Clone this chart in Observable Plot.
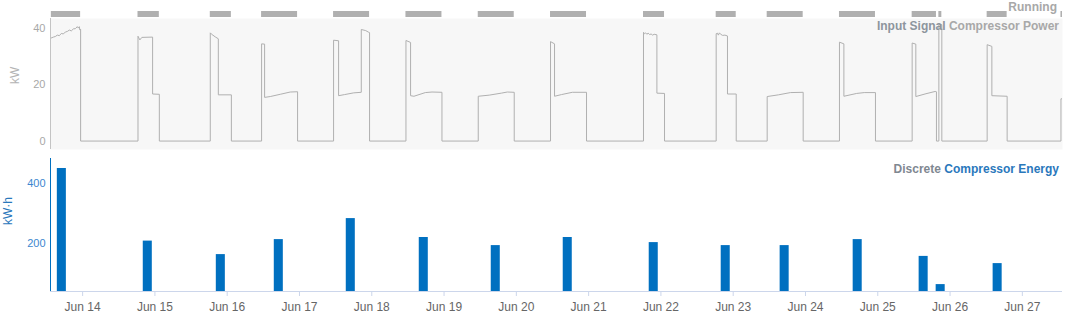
<!DOCTYPE html>
<html><head><meta charset="utf-8">
<script src="https://cdn.jsdelivr.net/npm/d3@7"></script>
<script src="https://cdn.jsdelivr.net/npm/@observablehq/plot@0.6"></script>
<style>
body{margin:0;background:#fff;font-family:"Liberation Sans",Arial,sans-serif;}
#wrap{position:relative;width:1068px;height:315px;overflow:hidden}
#wrap > div.plot{position:absolute;left:0}
.t{position:absolute;font-weight:bold;font-size:12px;line-height:12px;white-space:nowrap}
</style></head><body>
<div id="wrap">
 <div class="plot" id="power" style="top:0"></div>
 <div class="plot" id="strip" style="top:0"></div>
 <div class="plot" id="energy" style="top:152px"></div>
 <div class="t" style="right:11px;top:1px;color:#a8a8a8">Running</div>
 <div class="t" style="right:9px;top:20px"><span style="color:#8d959d">Input Signal</span> <span style="color:#a8a8a8">Compressor Power</span></div>
 <div class="t" style="right:9px;top:163px"><span style="color:#7f8891">Discrete</span> <span style="color:#2a78bc">Compressor Energy</span></div>
</div>
<script>
// ---- data (June; "DD HH:MM") ----
const xRange = ["13 13:20", "27 13:20"];
const kwTicks = [0, 20, 40];
const kwhTicks = [200, 400];

const runStart = ["13 13:37","14 18:23","15 18:23","16 11:25","17 11:19","18 11:21","19 11:21","20 11:21","21 18:13","22 18:21","23 11:17","24 11:17","25 11:25","25 20:17","26 12:19","27 12:49"];
const runEnd   = ["13 23:20","15 01:28","16 01:23","16 23:22","17 23:16","18 23:18","19 23:18","20 23:18","22 01:12","23 01:00","23 23:14","24 23:14","25 19:29","25 21:16","26 18:57","27 13:20"];

const powerTime = [
 "13 13:37","13 14:16","13 14:56","13 15:36","13 16:16","13 16:56","13 17:36","13 18:15","13 18:55","13 19:35","13 20:15","13 20:55","13 21:35","13 22:14","13 22:34","13 22:54","13 23:05","13 23:20","13 23:20",
 "14 18:23","14 18:23","14 19:00","14 19:40","14 23:14","14 23:14","15 01:28","15 01:28",
 "15 18:23","15 18:23","15 18:43","15 20:00","15 21:03","15 21:03","16 01:23","16 01:23",
 "16 11:25","16 11:25","16 12:25","16 12:25","16 14:18","16 17:37","16 20:56","16 23:22","16 23:22",
 "17 11:19","17 11:19","17 12:59","17 12:59","17 15:00","17 18:00","17 20:31","17 20:31","17 22:00","17 23:00","17 23:16","17 23:16",
 "18 11:21","18 11:21","18 12:53","18 12:53","18 14:00","18 17:46","18 20:00","18 23:18","18 23:18",
 "19 11:21","19 11:21","19 15:00","19 19:00","19 21:00","19 23:18","19 23:18",
 "20 11:21","20 11:21","20 12:41","20 12:41","20 15:00","20 18:35","20 23:18","20 23:18",
 "21 18:13","21 18:13","21 18:35","21 18:55","21 19:20","21 19:45","21 20:15","21 20:45","21 21:15","21 21:45","21 22:40","21 22:40","22 01:12","22 01:12",
 "22 18:21","22 18:21","22 18:45","22 19:05","22 19:25","22 19:50","22 20:30","22 21:15","22 22:06","22 22:06","23 01:00","23 01:00",
 "23 11:17","23 11:17","23 15:00","23 19:00","23 23:14","23 23:14",
 "24 11:17","24 11:17","24 12:45","24 12:45","24 17:00","24 19:30","24 23:14","24 23:14",
 "25 11:25","25 11:25","25 12:38","25 12:38","25 16:00","25 19:03","25 19:29","25 19:29","25 20:17","25 20:17","25 21:16","25 21:16",
 "26 12:19","26 12:19","26 13:53","26 13:53","26 18:57","26 18:57",
 "27 12:49","27 12:49","27 13:30"
];
const powerKW = [
 36.6,36.9,37.1,37.6,37.4,38.2,38.0,38.7,38.9,39.4,39.1,39.8,39.9,40.6,40.1,40.6,39.4,39.7,0,
 0,37.2,35.9,36.8,36.9,16.7,16.6,0,
 0,38.4,38.0,37.0,36.3,16.4,16.4,0,
 0,34.5,34.4,15.5,15.8,16.6,17.4,17.5,0,
 0,35.8,35.6,16.1,16.5,17.1,17.3,39.6,39.2,38.6,38.5,0,
 0,35.7,35.0,16.1,15.9,17.2,17.4,17.3,0,
 0,15.9,16.3,17.0,17.4,17.3,0,
 0,35.3,34.5,15.9,16.5,17.3,17.3,0,
 0,38.6,38.1,38.4,37.9,38.3,37.8,38.0,37.6,37.9,37.7,17.0,16.9,0,
 0,38.1,38.3,37.6,38.4,37.9,37.5,37.6,37.3,16.7,16.7,0,
 0,15.8,16.4,17.2,17.3,0,
 0,35.1,34.5,15.9,16.9,17.2,17.2,0,
 0,34.8,34.4,15.8,16.8,17.6,17.5,0,0,41.5,41.3,0,
 0,34.2,33.6,16.1,15.9,0,
 0,15.0,15.0
];

const energyTime = ["13 17:06","14 21:38","15 21:53","16 17:08","17 17:02","18 17:16","19 17:10","20 17:04","21 21:37","22 21:31","23 17:05","24 17:20","25 15:14","25 20:53","26 15:48"];
const energyKWh  = [451,209,164,214,284,221,194,221,204,194,194,214,158,64,134];

// ---- build ----
const parse = s => d3.utcParse("%Y-%m-%d %H:%M")("2023-06-" + s);
const xDomain = xRange.map(parse);
const running = runStart.map((s, i) => ({s: parse(s), e: parse(runEnd[i])}));
const power = powerTime.map((t, i) => ({t: parse(t), v: powerKW[i]}));
const energy = energyTime.map((t, i) => ({t: parse(t), v: energyKWh[i]}));
const kwDomain = [-3, 43.5];
const kwhDomain = [41, 484.3];
const font = {fontFamily: "'Liberation Sans', Arial, sans-serif", fontSize: "11px", background: "transparent", overflow: "visible"};

document.getElementById("power").append(Plot.plot({
  width: 1068, height: 152, marginLeft: 50, marginRight: 6, marginTop: 18, marginBottom: 3,
  style: font,
  x: {type: "utc", domain: xDomain, axis: null},
  y: {domain: kwDomain, axis: null},
  marks: [
    Plot.frame({fill: "#f7f7f7", stroke: "none"}),
    Plot.axisY({ticks: kwTicks, tickSize: 0, tickPadding: 5, color: "#a8a8a8", label: null, fontSize: 11}),
    Plot.ruleX([xDomain[0]], {stroke: "#c4c4c4"}),
    Plot.line(power, {x: "t", y: "v", stroke: "#b0b0b0", strokeWidth: 1, clip: true}),
    Plot.text(["kW"], {frameAnchor: "left", dx: -35, rotate: -90, fill: "#b4b4b4", fontSize: 12})
  ]
}));

document.getElementById("strip").append(Plot.plot({
  width: 1068, height: 17, marginLeft: 50, marginRight: 6, marginTop: 11, marginBottom: 0,
  style: font,
  x: {type: "utc", domain: xDomain, axis: null},
  y: {domain: ["Running"], axis: null, padding: 0},
  marks: [
    Plot.barX(running, {x1: "s", x2: "e", y: () => "Running", fill: "#b0b0b0", clip: true})
  ]
}));

document.getElementById("energy").append(Plot.plot({
  width: 1068, height: 163, marginLeft: 50, marginRight: 6, marginTop: 6, marginBottom: 24,
  style: font,
  x: {type: "utc", domain: xDomain, axis: null},
  y: {domain: kwhDomain, axis: null},
  marks: [
    Plot.rectY(energy, {x1: d => d3.utcMinute.offset(d.t, -90), x2: d => d3.utcMinute.offset(d.t, 90), y1: 0, y2: "v", fill: "#0070c0", clip: true}),
    Plot.ruleY([kwhDomain[0]], {stroke: "#ccd6eb"}),
    Plot.ruleX([xDomain[0]], {stroke: "#0070c0"}),
    Plot.axisX({ticks: d3.utcDay, tickSize: 5, stroke: "#ccd6eb", text: null, label: null}),
    Plot.axisX({ticks: d3.utcDay, tickSize: 0, tickPadding: 11, tickFormat: d3.utcFormat("%b %-d"), fill: "#666", fontSize: 12, label: null}),
    Plot.axisY({ticks: kwhTicks, tickSize: 0, tickPadding: 5, color: "#3d87cf", label: null, fontSize: 11}),
    Plot.text(["kW·h"], {frameAnchor: "left", dx: -42, rotate: -90, fill: "#2a78bc", fontSize: 12})
  ]
}));
</script>
</body></html>
